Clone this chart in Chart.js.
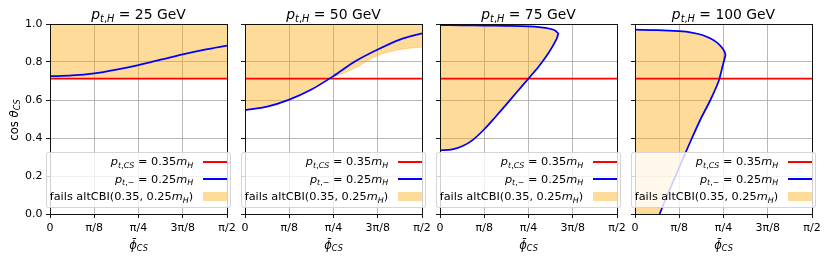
<!DOCTYPE html>
<html><head><meta charset="utf-8">
<script src="https://cdn.jsdelivr.net/npm/chart.js@4"></script>
<style>
body{margin:0;background:#fff;}
#wrap{position:relative;width:830px;height:261px;overflow:hidden;font-family:"DejaVu Sans";color:#000;}
canvas{position:absolute;top:0;}
.title{position:absolute;top:7px;width:177px;text-align:center;font-size:13.9px;line-height:14px;white-space:nowrap;}
.xlab{position:absolute;top:239px;width:177px;text-align:center;font-size:11.6px;line-height:12px;white-space:nowrap;}
.ylab{position:absolute;left:-26px;top:114px;width:80px;height:12px;text-align:center;font-size:11.6px;line-height:12px;font-weight:normal;white-space:nowrap;transform:rotate(-90deg);transform-origin:40px 6px;}
.s{font-size:0.7em;position:relative;top:0.3em;}
.legend{position:absolute;top:151.7px;width:184.5px;height:56.6px;box-sizing:border-box;background:rgba(255,255,255,0.8);border:1px solid rgba(204,204,204,0.8);border-radius:3px;font-size:11.3px;}
.row{position:absolute;right:2.4px;height:18px;display:flex;align-items:center;white-space:nowrap;}
.hl{width:24px;height:1.75px;margin-left:10px;}
.hp{width:24px;height:9px;margin-left:10px;background:rgba(255,165,0,0.4);}
</style>
</head><body>
<div id="wrap"></div>
<script>
// ---- data (x in units of π, y = cos θ_CS) ----
const ptValues = [25, 50, 75, 100];
const xTickVals = [0, 0.125, 0.25, 0.375, 0.5];
const xTickLabels = ['0', 'π/8', 'π/4', '3π/8', 'π/2'];
const yTickVals = [0, 0.2, 0.4, 0.6, 0.8, 1.0];
const yTickLabels = ['0.0', '0.2', '0.4', '0.6', '0.8', '1.0'];
const redLevel = 0.713;

const phiGrid = [0, 0.0625, 0.125, 0.1875, 0.25, 0.3125, 0.375, 0.4375, 0.5];
const blue25 = [0.725, 0.729, 0.740, 0.760, 0.784, 0.812, 0.840, 0.865, 0.886];
const fill25Phi = [0, 0.5];
const fill25Cos = [0.713, 0.713];

const blue50 = [0.547, 0.565, 0.602, 0.655, 0.726, 0.805, 0.866, 0.918, 0.951];
const fill50Phi = [0, 0.0625, 0.125, 0.1875, 0.2374, 0.25, 0.3125, 0.375, 0.4375, 0.5];
const fill50Cos = [0.547, 0.565, 0.602, 0.655, 0.712, 0.720, 0.770, 0.835, 0.866, 0.879];

const upper75Phi = [0, 0.0625, 0.125, 0.1875, 0.25, 0.285, 0.31, 0.325, 0.334];
const upper75Cos = [0.994, 0.993, 0.992, 0.990, 0.987, 0.982, 0.975, 0.966, 0.950];
const lower75Phi = [0, 0.035, 0.064, 0.092, 0.125, 0.157, 0.1875, 0.2185, 0.2495, 0.2795, 0.3065, 0.3295, 0.334];
const lower75Cos = [0.335, 0.340, 0.358, 0.389, 0.446, 0.512, 0.577, 0.645, 0.712, 0.778, 0.847, 0.922, 0.950];

const upper100Phi = [0, 0.0625, 0.125, 0.16, 0.19, 0.215, 0.235, 0.248, 0.254, 0.2555];
const upper100Cos = [0.970, 0.968, 0.962, 0.955, 0.942, 0.922, 0.897, 0.870, 0.850, 0.835];
const lower100Phi = [0.0695, 0.0915, 0.1145, 0.1375, 0.161, 0.1855, 0.213, 0.2365, 0.245, 0.2505, 0.2555];
const lower100Cos = [0, 0.1, 0.2, 0.3, 0.4, 0.5, 0.6, 0.7, 0.76, 0.8, 0.835];
const base100Phi = [0];
const base100Cos = [0];

// ---- helpers ----
const zip = (xs, ys) => xs.map((x, i) => ({x, y: ys[i]}));
const ORANGE = 'rgba(255,165,0,0.4)';
const axLefts = [50, 245, 440, 635];
const AXW = 177, LEFTPAD = 50, RIGHTPAD = 15;

function lineDs(data, color, extra) {
  return Object.assign({data, showLine: true, borderColor: color, borderWidth: 1.75, pointRadius: 0,
    tension: 0.3, fill: false, xAxisID: 'x', yAxisID: 'y'}, extra || {});
}
function fillDs(data, fill, extra) {
  return Object.assign({data, showLine: true, borderColor: ORANGE, borderWidth: 1, pointRadius: 0,
    tension: 0.3, fill, backgroundColor: ORANGE, xAxisID: 'x', yAxisID: 'y'}, extra || {});
}
const redData = zip([0, 0.5], [redLevel, redLevel]);

const panelDatasets = [
  [lineDs(zip(phiGrid, blue25), '#0000ff'), lineDs(redData, '#ff0000'), fillDs(zip(fill25Phi, fill25Cos), 'end')],
  [lineDs(zip(phiGrid, blue50), '#0000ff'), lineDs(redData, '#ff0000'), fillDs(zip(fill50Phi, fill50Cos), 'end')],
  [lineDs(zip(upper75Phi, upper75Cos).concat(zip(lower75Phi, lower75Cos).reverse()), '#0000ff'), lineDs(redData, '#ff0000'),
   fillDs(zip(upper75Phi, upper75Cos), 3), fillDs(zip(lower75Phi, lower75Cos), false, {borderWidth: 0})],
  [lineDs(zip(upper100Phi, upper100Cos).concat(zip(lower100Phi, lower100Cos).reverse()), '#0000ff'), lineDs(redData, '#ff0000'),
   fillDs(zip(upper100Phi, upper100Cos), 3), fillDs(zip(base100Phi, base100Cos).concat(zip(lower100Phi, lower100Cos)), false, {borderWidth: 0, tension: 0})]
];

Chart.defaults.font.family = 'DejaVu Sans';
Chart.defaults.color = '#000';
const wrap = document.getElementById('wrap');

panelDatasets.forEach((datasets, i) => {
  const cv = document.createElement('canvas');
  cv.width = LEFTPAD + AXW + RIGHTPAD; cv.height = 261;
  cv.style.left = (axLefts[i] - LEFTPAD) + 'px';
  wrap.appendChild(cv);
  const gridOpts = {color: '#b0b0b0', lineWidth: 0.9, tickColor: '#000', tickLength: 4, tickWidth: 0.9};
  const borderOpts = {color: '#000', width: 0.9, z: 1};
  new Chart(cv, {
    type: 'scatter',
    data: {datasets},
    options: {
      responsive: false, animation: false, devicePixelRatio: 1,
      layout: {padding: {left: 0, right: RIGHTPAD, top: 24, bottom: 0}},
      plugins: {legend: {display: false}, tooltip: {enabled: false}, title: {display: false}},
      scales: {
        x: {type: 'linear', position: 'bottom', min: 0, max: 0.5,
          afterBuildTicks: s => { s.ticks = xTickVals.map(v => ({value: v})); },
          afterFit: s => { s.height = 47; },
          ticks: {callback: (v, idx) => xTickLabels[idx], font: {size: 11}, padding: 4, maxRotation: 0, autoSkip: false},
          grid: gridOpts, border: borderOpts},
        y: {type: 'linear', position: 'left', min: 0, max: 1,
          afterBuildTicks: s => { s.ticks = yTickVals.map(v => ({value: v})); },
          afterFit: s => { s.width = LEFTPAD; },
          ticks: {callback: (v, idx) => i === 0 ? yTickLabels[idx] : '', font: {size: 11}, padding: 3.5},
          grid: gridOpts, border: borderOpts},
        x2: {type: 'linear', position: 'top', min: 0, max: 0.5, afterFit: s => { s.height = 0; },
          ticks: {display: false}, grid: {display: false, drawTicks: false}, border: borderOpts},
        y2: {type: 'linear', position: 'right', min: 0, max: 1, afterFit: s => { s.width = 0; },
          ticks: {display: false}, grid: {display: false, drawTicks: false}, border: borderOpts}
      }
    }
  });

  const t = document.createElement('div');
  t.className = 'title'; t.style.left = axLefts[i] + 'px';
  t.innerHTML = '<i>p</i><span class="s"><i>t</i>,<i>H</i></span> = ' + ptValues[i] + ' GeV';
  wrap.appendChild(t);

  const xl = document.createElement('div');
  xl.className = 'xlab'; xl.style.left = axLefts[i] + 'px';
  xl.innerHTML = '<i>ϕ̄</i><span class="s"><i>CS</i></span>';
  wrap.appendChild(xl);

  const lg = document.createElement('div');
  lg.className = 'legend'; lg.style.left = (axLefts[i] - 4) + 'px';
  lg.innerHTML =
    '<div class="row" style="top:0px"><span><i>p</i><span class="s"><i>t</i>,<i>CS</i></span> = 0.35<i>m</i><span class="s"><i>H</i></span></span><div class="hl" style="background:#ff0000"></div></div>' +
    '<div class="row" style="top:17.6px"><span><i>p</i><span class="s"><i>t</i>,−</span> = 0.25<i>m</i><span class="s"><i>H</i></span></span><div class="hl" style="background:#0000ff"></div></div>' +
    '<div class="row" style="top:35.3px"><span>fails altCBI(0.35, 0.25<i>m</i><span class="s"><i>H</i></span>)</span><div class="hp"></div></div>';
  wrap.appendChild(lg);
});

const yl = document.createElement('div');
yl.className = 'ylab';
yl.innerHTML = 'cos <i>θ</i><span class="s"><i>CS</i></span>';
wrap.appendChild(yl);
</script>
</body></html>
